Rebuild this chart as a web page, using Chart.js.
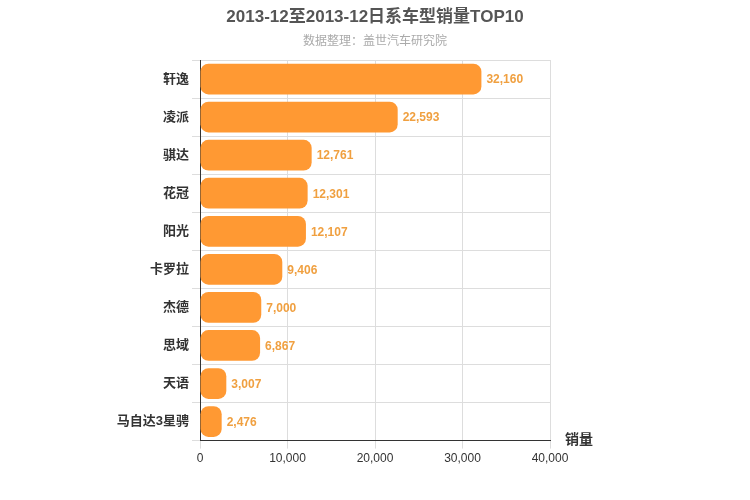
<!DOCTYPE html>
<html><head><meta charset="utf-8">
<script src="https://cdn.jsdelivr.net/npm/chart.js@4"></script>
<style>body{margin:0;background:#fff}#w{width:750px;height:500px}</style>
</head><body><div id="w"><canvas id="c" width="750" height="500"></canvas></div>
<script>
const categories=["轩逸","凌派","骐达","花冠","阳光","卡罗拉","杰德","思域","天语","马自达3星骋"];
const sales=[32160,22593,12761,12301,12107,9406,7000,6867,3007,2476];
const tickLabels=[0,10000,20000,30000,40000];
const font="'Liberation Sans', 'Noto Sans CJK SC', sans-serif";
const labelPlugin={id:'lbl',afterDatasetsDraw(ch){const ctx=ch.ctx;const m=ch.getDatasetMeta(0);ctx.save();ctx.font="bold 12px "+font;ctx.fillStyle="#f0a040";ctx.textBaseline="middle";m.data.forEach((b,i)=>{ctx.fillText(sales[i].toLocaleString('en-US'),b.x+5,b.y+1);});
const xa=ch.scales.x;ctx.fillStyle="#333";ctx.font="bold 14px "+font;ctx.textBaseline="alphabetic";ctx.fillText("销量",xa.right+15,xa.top+3);
ctx.textAlign="center";ctx.fillStyle="#555";ctx.font="bold 17px "+font;ctx.fillText("2013-12至2013-12日系车型销量TOP10",375,22);
ctx.fillStyle="#aaa";ctx.font="12px "+font;ctx.fillText("数据整理：盖世汽车研究院",375,45);ctx.restore();}};
new Chart(document.getElementById('c'),{type:'bar',data:{labels:categories,datasets:[{data:sales,backgroundColor:'#ff9933',borderRadius:8,borderSkipped:false,categoryPercentage:0.85,barPercentage:0.95}]},
options:{indexAxis:'y',responsive:false,animation:false,layout:{padding:{left:0,right:200,top:60,bottom:31}},
plugins:{legend:{display:false},tooltip:{enabled:false}},
scales:{x:{min:0,max:40000,afterBuildTicks(a){a.ticks=tickLabels.map(v=>({value:v}));},ticks:{color:'#333',font:{family:font,size:12},callback:v=>v.toLocaleString('en-US')},grid:{color:'#ddd'},border:{color:'#333'}},
y:{ticks:{color:'#333',font:{family:font,size:13,weight:'bold'}},grid:{color:'#ddd'},border:{color:'#333'},afterFit(s){s.width=200;}}}},
plugins:[labelPlugin]});
</script></body></html>
